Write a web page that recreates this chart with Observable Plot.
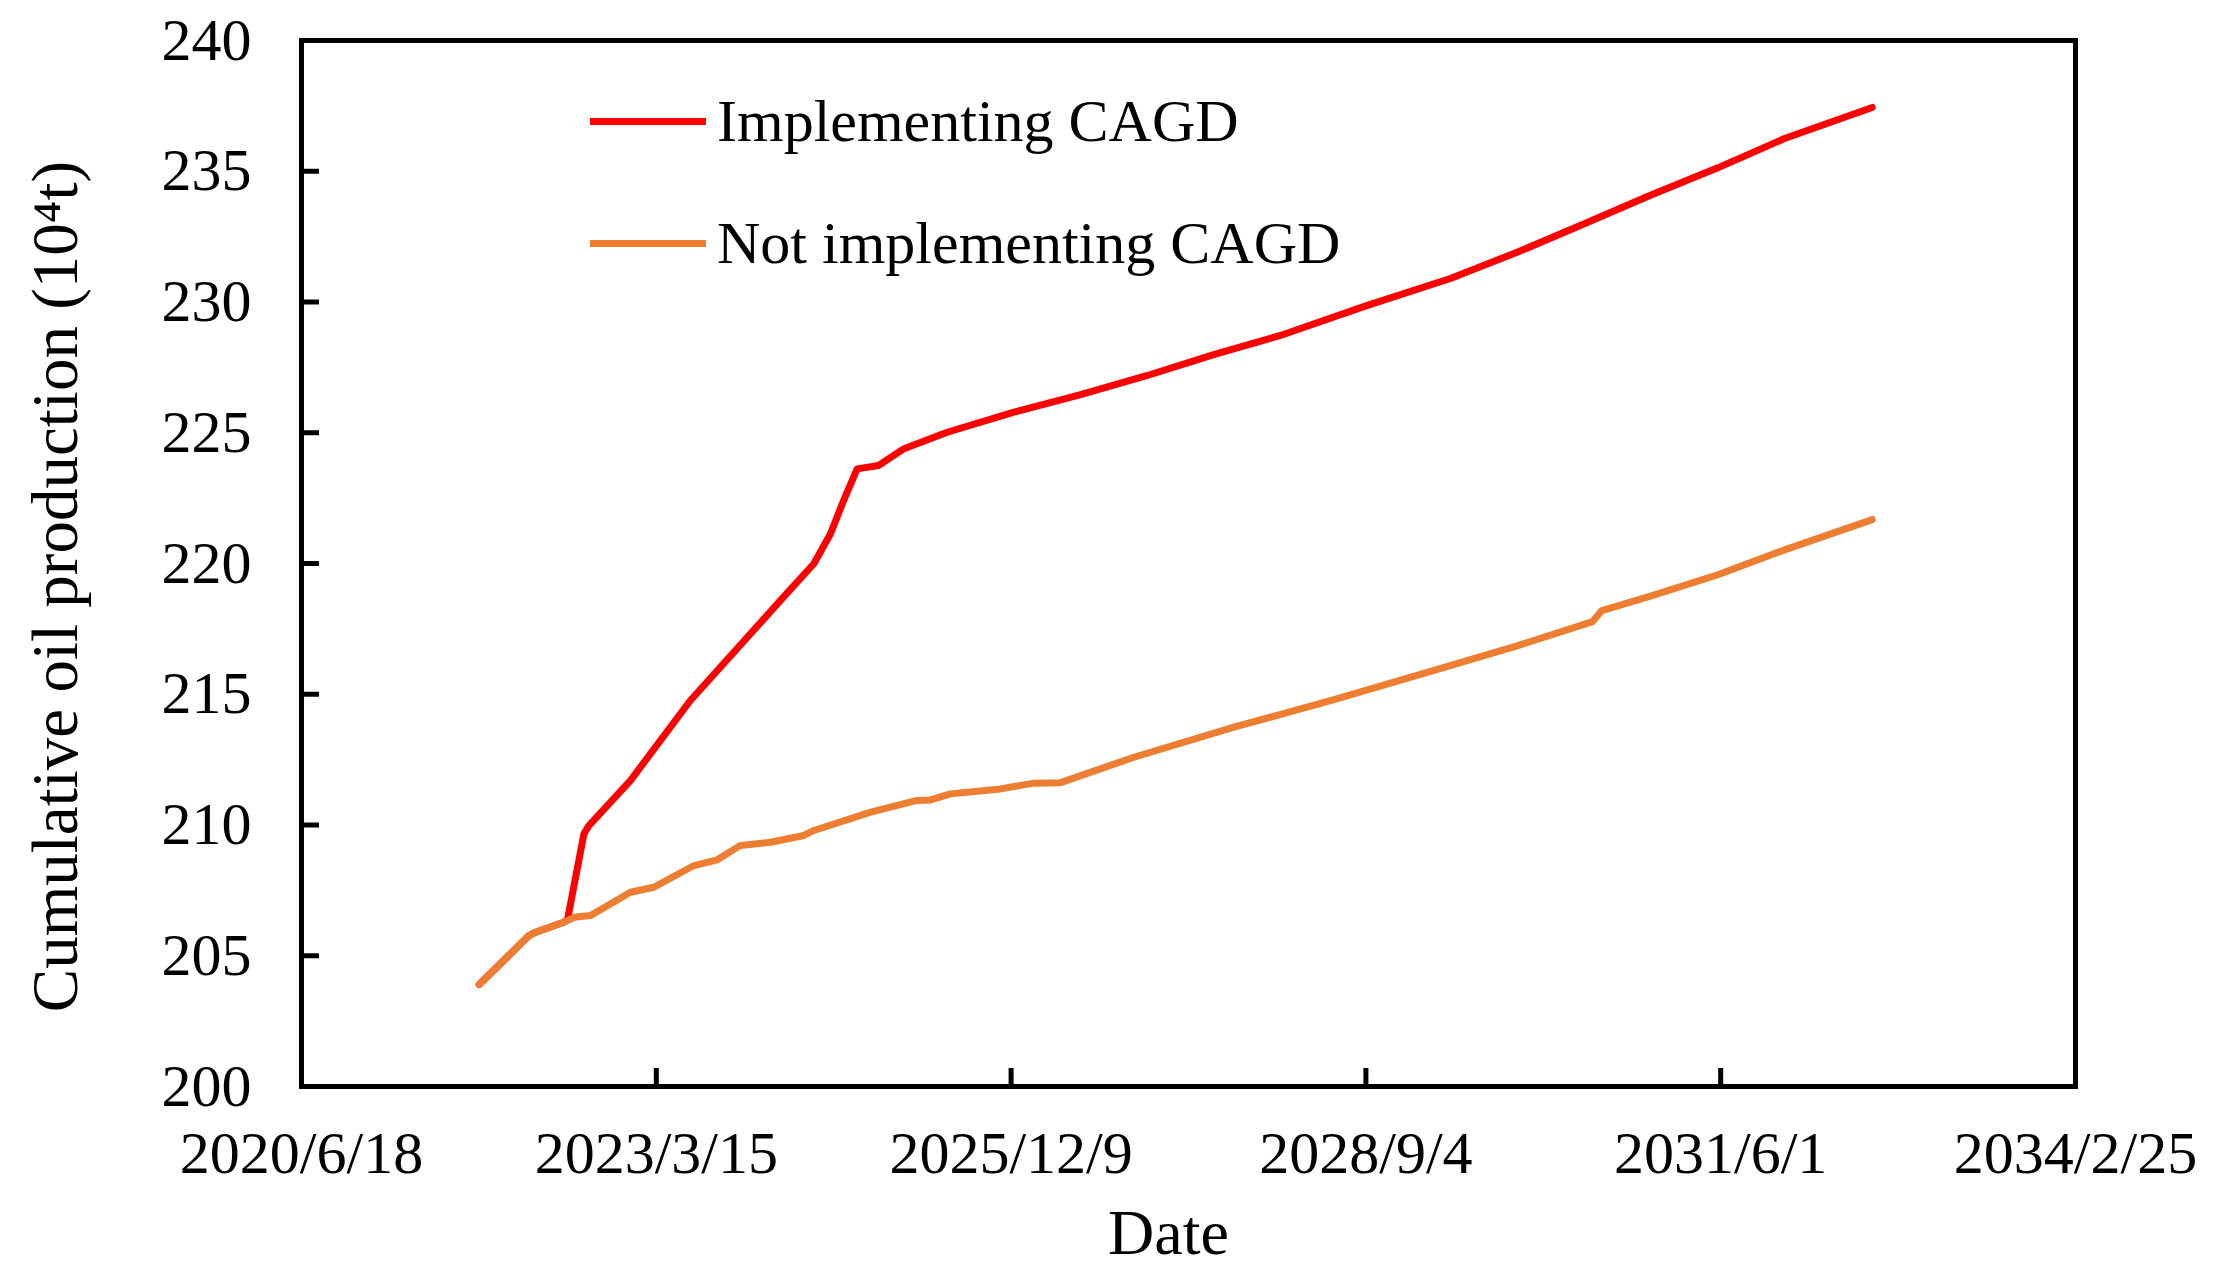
<!DOCTYPE html>
<html><head><meta charset="utf-8">
<script src="https://cdn.jsdelivr.net/npm/d3@7"></script>
<script src="https://cdn.jsdelivr.net/npm/@observablehq/plot@0.6"></script>
<style>
body{margin:0;background:#fff;}
#wrap{position:relative;width:2213px;height:1278px;}
.leg{position:absolute;left:590px;height:70px;display:flex;align-items:center;font-family:"Liberation Serif","Times New Roman",serif;font-size:60px;line-height:70px;color:#000;white-space:nowrap;}
.leg .sw{width:116px;height:7px;margin-right:11px;}
</style></head><body><div id="wrap"></div>
<script>
// ---- data ----
const seriesNames = ["Implementing CAGD", "Not implementing CAGD"];
const seriesColors = ["#FF0000", "#ED7D31"];

const cagdDates = ["2021-11-01","2022-03-21","2022-04-09","2022-06-27","2022-07-08","2022-08-23","2022-09-06","2023-01-01","2023-06-19","2024-02-28","2024-06-01","2024-07-18","2024-08-20","2024-10-01","2024-12-01","2025-02-10","2025-06-12","2025-12-17","2026-06-23","2026-12-28","2027-07-03","2028-01-07","2028-09-04","2029-04-30","2029-11-04","2030-05-11","2030-11-15","2031-05-22","2031-11-26","2032-08-01"];
const cagdValues = [203.90,205.77,205.90,206.28,206.40,209.66,209.98,211.70,214.76,218.59,219.99,221.14,222.28,223.62,223.75,224.39,225.02,225.79,226.46,227.19,227.99,228.72,229.85,230.90,231.90,232.98,234.08,235.12,236.24,237.44];

const noCagdDates = ["2021-11-01","2022-03-21","2022-04-09","2022-06-27","2022-07-26","2022-09-11","2023-01-01","2023-03-08","2023-06-29","2023-09-03","2023-11-07","2024-01-31","2024-05-04","2024-06-01","2024-11-08","2025-03-19","2025-04-26","2025-06-21","2025-11-09","2026-02-11","2026-04-27","2026-11-20","2027-08-29","2028-06-06","2029-03-15","2029-11-04","2030-06-05","2030-07-01","2030-11-15","2031-05-22","2031-11-26","2032-08-01"];
const noCagdValues = [203.90,205.77,205.90,206.28,206.47,206.54,207.43,207.62,208.45,208.67,209.22,209.34,209.60,209.79,210.49,210.94,210.96,211.19,211.38,211.60,211.62,212.59,213.74,214.79,215.91,216.85,217.78,218.20,218.75,219.56,220.51,221.68];

const xTickDates = ["2020-06-18","2023-03-15","2025-12-09","2028-09-04","2031-06-01","2034-02-25"];
const xTickLabels = ["2020/6/18","2023/3/15","2025/12/9","2028/9/4","2031/6/1","2034/2/25"];
const yTicks = [200,205,210,215,220,225,230,235,240];
const xLabel = "Date";
const yLabel = "Cumulative oil production (10\u2074t)";

// ---- build ----
const cagd = cagdDates.map((d,i)=>({date:new Date(d), value:cagdValues[i]}));
const noCagd = noCagdDates.map((d,i)=>({date:new Date(d), value:noCagdValues[i]}));
const xTicks = xTickDates.map(d=>new Date(d));
const labelOf = new Map(xTicks.map((d,i)=>[+d, xTickLabels[i]]));

const W = 2213, H = 1278, mL = 301, mR = 138, mT = 40, mB = 192;
const fw = W - mL - mR, fh = H - mT - mB;
const font = "Liberation Serif, Times New Roman, serif";

const chart = Plot.plot({
  width: W, height: H,
  marginLeft: mL, marginRight: mR, marginTop: mT, marginBottom: mB,
  style: {fontFamily: font, fontSize: "60px", color: "#000", background: "#fff"},
  x: {type: "utc", domain: [xTicks[0], xTicks[xTicks.length-1]]},
  y: {domain: [200, 240]},
  marks: [
    Plot.line(cagd, {x: "date", y: "value", stroke: seriesColors[0], strokeWidth: 7, strokeLinejoin: "round", strokeLinecap: "round"}),
    Plot.line(noCagd, {x: "date", y: "value", stroke: seriesColors[1], strokeWidth: 7, strokeLinejoin: "round", strokeLinecap: "round"}),
    Plot.ruleX(xTicks, {x: d=>d, stroke: "#000", strokeWidth: 5, insetTop: fh - 18}),
    Plot.ruleY(yTicks, {y: d=>d, stroke: "#000", strokeWidth: 5, insetRight: fw - 18}),
    Plot.frame({stroke: "#000", strokeWidth: 5}),
    Plot.axisX(xTicks, {tickSize: 0, tickPadding: 44, tickFormat: d=>labelOf.get(+d), fontSize: 60, label: null}),
    Plot.axisY(yTicks, {tickSize: 0, tickPadding: 50, fontSize: 60, label: null}),
    Plot.text([xLabel], {text: d=>d, frameAnchor: "bottom", textAnchor: "middle", lineAnchor: "middle", dx: -20, dy: 147, fontSize: 64, fill: "#000"}),
    Plot.text([yLabel], {text: d=>d, frameAnchor: "left", textAnchor: "middle", lineAnchor: "middle", dx: -245, dy: 23, rotate: -90, fontSize: 65, fill: "#000"})
  ]
});
const wrap = document.getElementById("wrap");
wrap.appendChild(chart);

// legend (inside plot area, top-left)
const legTops = [86, 208];
seriesNames.forEach((name,i)=>{
  const row = document.createElement("div");
  row.className = "leg";
  row.style.top = legTops[i] + "px";
  const sw = document.createElement("div");
  sw.className = "sw";
  sw.style.background = seriesColors[i];
  const tx = document.createElement("span");
  tx.textContent = name;
  row.appendChild(sw); row.appendChild(tx);
  wrap.appendChild(row);
});
</script></body></html>
